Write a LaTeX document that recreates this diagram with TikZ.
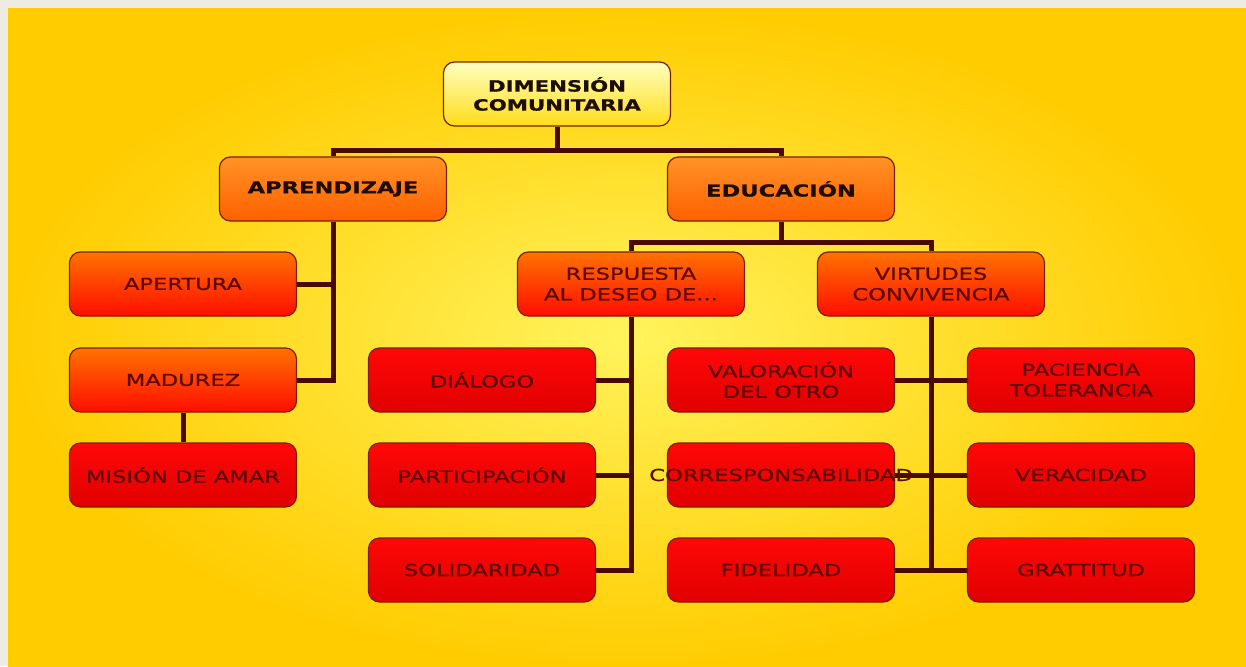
\documentclass[tikz,border=0pt]{standalone}
\usepackage{fontspec}
\newfontfamily\boxfont{DejaVu Sans}[FakeStretch=1.37, FakeBold=0.9]
\usetikzlibrary{calc,positioning,backgrounds}
\definecolor{frame}{HTML}{EEEBE3}
\definecolor{bgouter}{HTML}{FFCC00}
\definecolor{bginner}{HTML}{FFF35C}
\definecolor{linkbrown}{HTML}{4A0A00}
\definecolor{edgebrown}{HTML}{7A2000}
\definecolor{darktext}{HTML}{1E0E00}
\definecolor{redtext}{HTML}{5E0800}

\begin{document}
\begin{tikzpicture}[x=1pt, y=1pt,
  box/.style={draw=edgebrown, line width=1.2pt, rounded corners=11pt,
    minimum width=227pt, minimum height=64pt, inner sep=2pt, align=center,
    text=redtext, font=\boxfont\fontsize{16.5}{20.5}\selectfont},
  rootbox/.style={box, top color=yellow!25!white, bottom color=yellow!70!orange!90!white,
    text=darktext, font=\boxfont\bfseries\fontsize{15.5}{19}\selectfont},
  topbox/.style={box, top color=orange!85!white, bottom color=orange!75!red,
    text=darktext, font=\boxfont\bfseries\fontsize{16.5}{20.5}\selectfont},
  midbox/.style={box, top color=orange!90!red, bottom color=red!90!orange},
  leafbox/.style={box, top color=red!97!white, bottom color=red!88!black},
  link/.style={draw=linkbrown, line width=5pt}]

% Root and first level
\node[rootbox] (root)   at (557,-94)  {DIMENSIÓN\\COMUNITARIA};
\node[topbox]  (aprend) at (333,-189) {APRENDIZAJE};
\node[topbox]  (educ)   at (781,-189) {EDUCACIÓN};

% Aprendizaje column
\node[midbox]  (apert)  at (183,-284) {APERTURA};
\node[midbox]  (madur)  at (183,-380) {MADUREZ};
\node[leafbox] (mision) at (183,-475) {MISIÓN DE AMAR};

% Educacion, second level
\node[midbox]  (resp)   at (631,-284) {RESPUESTA\\AL DESEO DE...};
\node[midbox]  (virt)   at (931,-284) {VIRTUDES\\CONVIVENCIA};

% Leaves
\node[leafbox] (dial)  at (482,-380)  {DIÁLOGO};
\node[leafbox] (part)  at (482,-475)  {PARTICIPACIÓN};
\node[leafbox] (soli)  at (482,-570)  {SOLIDARIDAD};
\node[leafbox] (valor) at (781,-380)  {VALORACIÓN\\DEL OTRO};
\node[leafbox] (corr)  at (781,-475)  {\makebox[0pt]{CORRESPONSABILIDAD}};
\node[leafbox] (fide)  at (781,-570)  {FIDELIDAD};
\node[leafbox] (pac)   at (1081,-380) {PACIENCIA\\TOLERANCIA};
\node[leafbox] (vera)  at (1081,-475) {VERACIDAD};
\node[leafbox] (grat)  at (1081,-570) {GRATTITUD};

\begin{pgfonlayer}{background}
% Backdrop
\fill[frame] (0,0) rectangle (1246,-666);
\shade[inner color=bginner, outer color=bgouter] (8,-9) rectangle (1246,-666);
% Connectors
\coordinate (busA) at (557,-150);
\draw[link] (root) -- (busA);
\draw[link] (aprend.north) |- (busA) -| (educ.north);
\draw[link] (aprend.south) |- (madur.east);
\draw[link] (apert.east) -- (apert.east -| aprend.south);
\draw[link] (madur) -- (mision);
\coordinate (busB) at (781,-242);
\draw[link] (educ) -- (busB);
\draw[link] (resp.north) |- (busB) -| (virt.north);
\draw[link] (resp.south) |- (soli.east);
\foreach \n in {dial, part}
  \draw[link] (\n.east) -- (\n.east -| resp.south);
\draw[link] (virt.south) -- (virt.south |- fide.east);
\foreach \l/\r in {valor/pac, corr/vera, fide/grat}
  \draw[link] (\l.east) -- (\r.west);
\end{pgfonlayer}

\end{tikzpicture}
\end{document}
